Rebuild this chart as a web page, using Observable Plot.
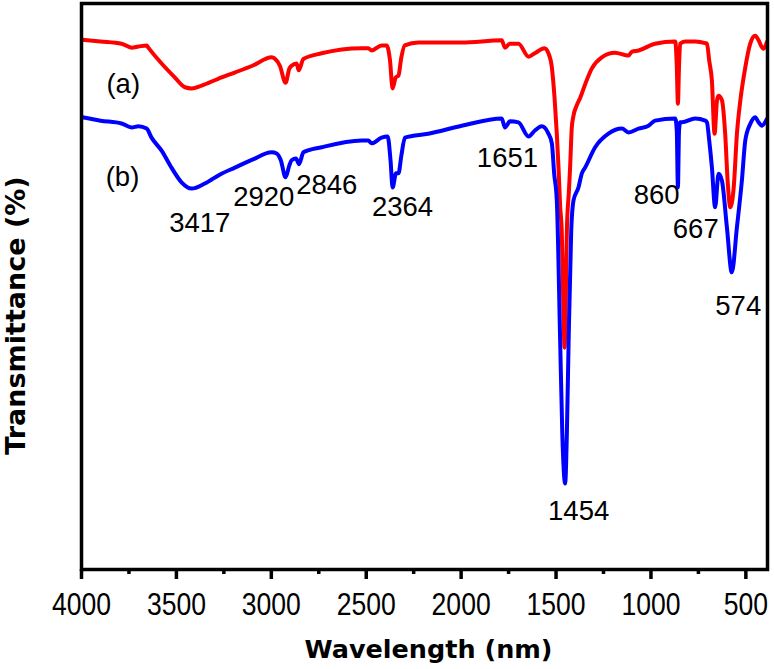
<!DOCTYPE html>
<html><head><meta charset="utf-8">
<script src="https://cdn.jsdelivr.net/npm/d3@7"></script>
<script src="https://cdn.jsdelivr.net/npm/@observablehq/plot@0.6"></script>
<style>body{margin:0;background:#fff;}</style>
</head><body><div id="chart"></div>
<script>
// Series (a): red
const wavenumbersA = [3996,3900,3789,3736,3700,3657,3648,3578,3510,3455,3420,3367,3280,3193,3100,2998,2983,2955,2925,2905,2893,2867,2856,2831,2735,2524,2489,2471,2419,2392,2375,2361,2345,2330,2315,2297,2225,1997,1786,1769,1744,1698,1645,1612,1561,1540,1522,1508,1496,1487,1478,1470,1462,1455,1449,1443,1432,1426,1417,1408,1391,1373,1347,1312,1259,1190,1118,1100,1065,979,872,864,858,852,846,820,767,714,705,693,679,665,652,644,626,609,595,582,564,547,529,503,477,451,433,416,407,389];
const transmittanceA = [93.6,93.3,92.9,92.2,92.4,92.6,92.2,89.4,87.0,85.2,85.0,85.5,86.7,87.8,89.0,90.5,90.3,89.0,86.0,88.5,89.0,89.4,88.2,90.2,91.2,92.1,92.1,91.7,92.6,92.6,90.0,85.0,86.9,87.3,90.5,92.6,93.1,93.1,93.5,92.2,92.9,92.9,90.6,91.2,92.1,91.2,88.7,83.4,77.0,71.0,64.0,59.9,47.5,39.2,47.5,59.9,67.0,71.0,78.1,80.2,82.0,83.3,85.7,88.5,90.5,91.3,90.8,91.5,91.7,92.9,93.3,89.0,82.3,89.0,92.9,93.3,93.3,93.0,92.9,89.9,86.4,77.0,82.9,83.7,82.9,77.0,68.1,64.0,67.5,77.0,82.9,88.7,92.9,94.3,93.5,92.3,92.0,93.2];

// Series (b): blue
const wavenumbersB = [3996,3900,3789,3736,3700,3657,3631,3578,3526,3473,3420,3350,3270,3192,3100,2998,2972,2950,2925,2905,2893,2870,2854,2831,2735,2524,2489,2471,2419,2387,2372,2361,2343,2330,2315,2296,2173,1997,1786,1769,1742,1698,1645,1610,1575,1543,1522,1510,1496,1478,1467,1452,1443,1434,1420,1408,1382,1364,1347,1294,1224,1153,1118,1065,1013,978,872,864,858,852,846,837,767,714,705,693,679,662,644,626,600,574,547,521,503,477,451,433,416,389];
const transmittanceB = [79.9,79.3,78.8,78.1,78.3,77.9,76.3,74.0,71.0,68.4,67.3,68.2,69.8,71.0,72.4,73.7,73.5,72.3,69.3,71.4,72.3,72.6,71.6,73.7,74.6,75.8,75.8,75.3,76.3,76.5,72.3,67.5,70.0,70.0,73.1,76.3,77.0,78.4,79.7,78.1,79.2,79.0,76.5,77.6,78.3,77.2,75.3,70.0,65.2,39.9,24.0,15.2,24.0,39.9,59.9,65.2,67.5,70.0,71.0,74.6,77.0,77.9,77.2,77.9,78.4,79.3,79.7,77.6,67.5,77.6,79.0,79.0,79.7,79.3,79.0,75.8,71.1,64.0,69.9,68.7,60.5,52.5,60.5,68.7,75.8,78.7,79.9,79.0,78.4,79.6];

// Annotations (text, anchor in data units)
const labelTexts = ["(a)","(b)","3417","2920","2846","2364","1651","860","667","574","1454"];
const labelWavenumbers = [3780,3784,3377,3040,2708,2309,1756,970,764,540,1381];
const labelTransmittance = [84.2,67.7,59.7,64.3,66.4,62.5,71.1,64.5,58.5,44.9,8.7];

const majorTicks = [4000,3500,3000,2500,2000,1500,1000,500];
const minorTicks = [3750,3250,2750,2250,1750,1250,750];
const xTitle = "Wavelength (nm)";
const yTitle = "Transmittance (%)";

const seriesA = wavenumbersA.map((w, i) => ({w, t: transmittanceA[i]}));
const seriesB = wavenumbersB.map((w, i) => ({w, t: transmittanceB[i]}));
const labels = labelTexts.map((text, i) => ({text, w: labelWavenumbers[i], t: labelTransmittance[i]}));

const chart = Plot.plot({
  width: 774,
  height: 669,
  marginLeft: 81,
  marginRight: 7,
  marginTop: 3,
  marginBottom: 100,
  style: {fontFamily: "'Liberation Sans', Arial, sans-serif", fontSize: "27px", background: "#fff", color: "#000"},
  x: {domain: [4000, 386]},
  y: {domain: [0, 100], axis: null},
  marks: [
    Plot.line(seriesA, {x: "w", y: "t", curve: "monotone-x", stroke: "#ff0000", strokeWidth: 4, strokeLinejoin: "round", strokeLinecap: "round"}),
    Plot.line(seriesB, {x: "w", y: "t", curve: "monotone-x", stroke: "#0000ff", strokeWidth: 4, strokeLinejoin: "round", strokeLinecap: "round"}),
    Plot.frame({stroke: "#000", strokeWidth: 3.5}),
    Plot.axisX({ticks: majorTicks, tickSize: 10, tickPadding: 12.5, tickFormat: d => String(d), strokeWidth: 3.5, fontSize: 32, label: null}),
    Plot.axisX({ticks: minorTicks, tickSize: 5, tickFormat: () => "", strokeWidth: 3.5, label: null}),
    Plot.text(labels, {x: "w", y: "t", text: "text", textAnchor: "middle", lineAnchor: "bottom", fontSize: 27.5, fill: "#000"}),
    Plot.text([xTitle], {text: d => d, frameAnchor: "bottom", dx: 4, dy: 88, lineAnchor: "bottom", textAnchor: "middle", fontFamily: "'DejaVu Sans', sans-serif", fontWeight: "bold", fontSize: 25.5, fill: "#000"}),
    Plot.text([yTitle], {text: d => d, frameAnchor: "left", rotate: -90, dx: -57, dy: 29, lineAnchor: "bottom", textAnchor: "middle", fontFamily: "'DejaVu Sans', sans-serif", fontWeight: "bold", fontSize: 27, fill: "#000"})
  ]
});
// Condense the tick labels horizontally (narrow sans look of the original)
d3.select(chart).selectAll("g[aria-label='x-axis tick label'] text").each(function() {
  const t = this.getAttribute("transform") || "";
  this.setAttribute("transform", t + " scale(0.83,1)");
});
document.getElementById("chart").appendChild(chart);
</script>
</body></html>
